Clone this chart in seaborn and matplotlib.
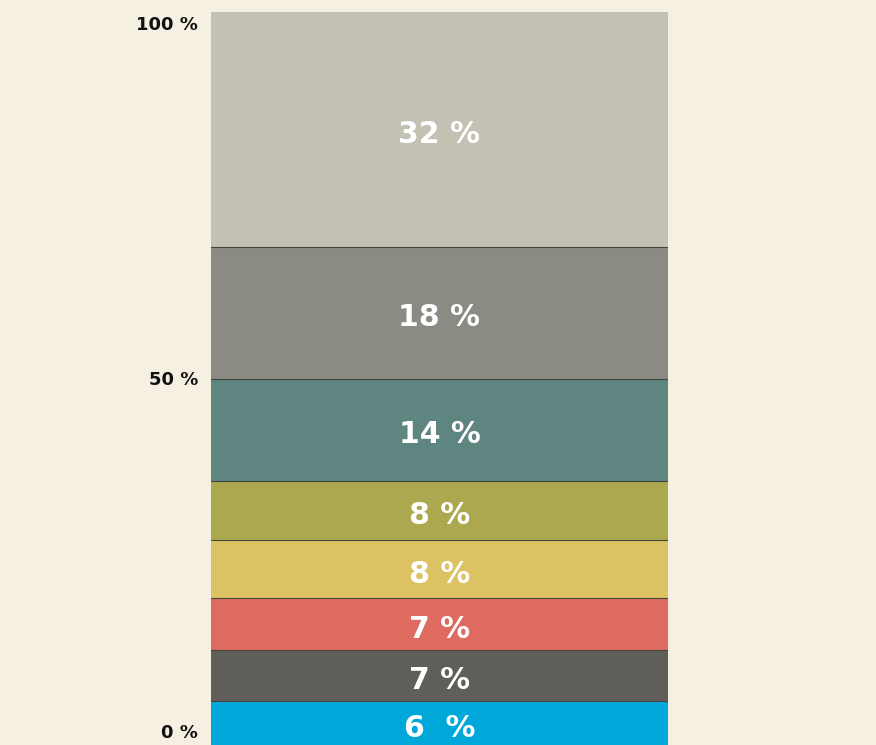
import matplotlib
matplotlib.use("Agg")
import matplotlib.pyplot as plt
import seaborn as sns
import numpy as np
import pandas as pd

# Data (bottom to top)
segments = ["s1", "s2", "s3", "s4", "s5", "s6", "s7", "s8"]
values = [6, 7, 7, 8, 8, 14, 18, 32]
labels = ["6  %", "7 %", "7 %", "8 %", "8 %", "14 %", "18 %", "32 %"]
colors = ["#00a7d9", "#5f5e58", "#df6b60", "#dcc262", "#aca84f", "#5e857f", "#8b8a83", "#c3c0b4"]
tick_values = [0, 50, 100]
tick_labels = ["0 %", "50 %", "100 %"]

sns.set_style("white")
plt.rcParams["font.family"] = ["DejaVu Sans"]

bg = "#f5f0e2"
fig = plt.figure(figsize=(8.76, 7.45), dpi=100, facecolor=bg)
ax = fig.add_axes([211 / 876, 0, (668 - 211) / 876, (745 - 12) / 745])
ax.set_facecolor(bg)

cum = np.cumsum(values)
bottoms = cum - np.array(values)
# Draw cumulative bars from the top down so each smaller one sits over the larger
for i in range(len(values) - 1, -1, -1):
    df = pd.DataFrame({"x": ["a"], "y": [cum[i]]})
    sns.barplot(data=df, x="x", y="y", color=colors[i], saturation=1, width=1.0,
                linewidth=0, ax=ax)

for c in cum[:-1]:
    ax.axhline(c, color="#45453f", lw=0.8, zorder=5)

for i, (b, v, lab) in enumerate(zip(bottoms, values, labels)):
    ax.text(0, b + v / 2 - 0.7, lab, ha="center", va="center", color="white",
            fontsize=21.5, fontweight="bold", zorder=6)

ax.set_xlim(-0.5, 0.5)
ax.set_ylim(0, 100)
ax.set_xlabel("")
ax.set_ylabel("")
ax.set_xticks([])
ax.set_yticks([])
for s in ax.spines.values():
    s.set_visible(False)

for t, lab in zip(tick_values, tick_labels):
    va = "bottom" if t == 0 else ("top" if t == 100 else "center")
    yoff = 0.4 if t == 0 else (-0.5 if t == 100 else -0.2)
    ax.text(-0.028 - 0.5, t + yoff, lab, ha="right", va=va, fontsize=13, fontweight="bold",
            color="#111111", transform=ax.transData, clip_on=False)

fig.savefig("out.png", dpi=100, facecolor=bg)
